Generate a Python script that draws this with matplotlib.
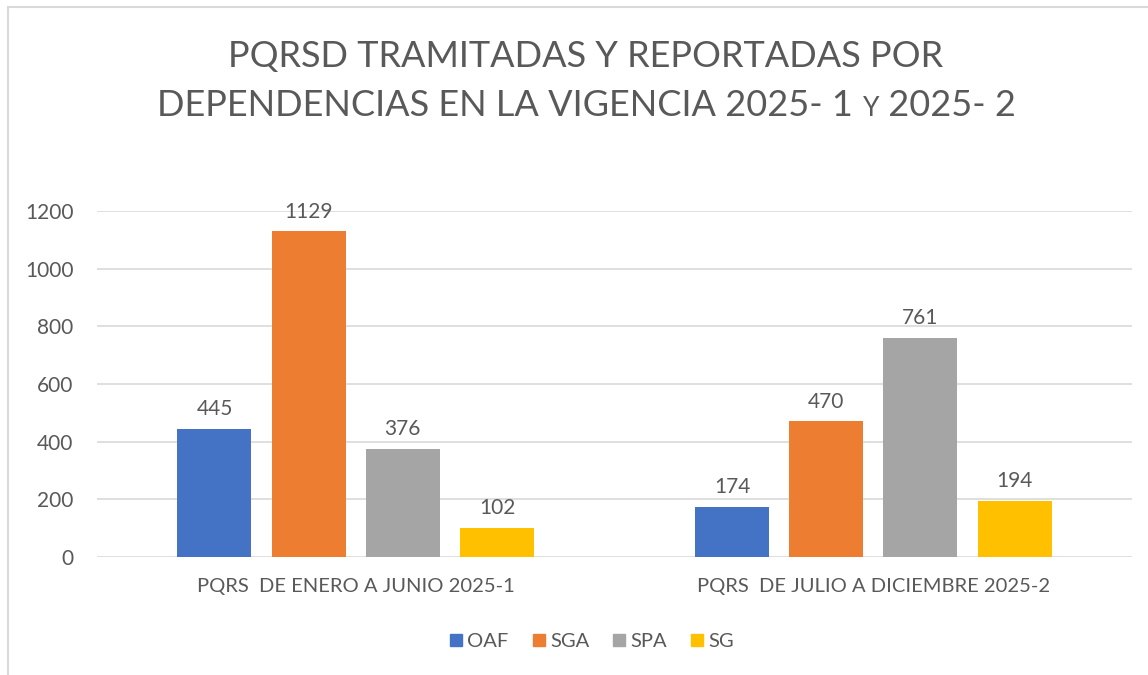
import numpy as np
import matplotlib

matplotlib.use("Agg")
import matplotlib.pyplot as plt
from matplotlib.lines import Line2D
from matplotlib.offsetbox import TextArea, HPacker, AnnotationBbox

plt.rcParams["font.family"] = ["Lato", "DejaVu Sans"]

categories = ["PQRS  DE ENERO A JUNIO 2025-1", "PQRS  DE JULIO A DICIEMBRE 2025-2"]
series_names = ["OAF", "SGA", "SPA", "SG"]
oaf = [445, 174]
sga = [1129, 470]
spa = [376, 761]
sg = [102, 194]
series_values = [oaf, sga, spa, sg]
colors = ["#4472C4", "#ED7D31", "#A5A5A5", "#FFC000"]
yticks = [0, 200, 400, 600, 800, 1000, 1200]

TXT = "#595959"
GRID = "#D9D9D9"

fig = plt.figure(figsize=(11.48, 6.75), dpi=100)
ax = fig.add_axes([97 / 1148, 1 - 557 / 675, (1132 - 97) / 1148, (557 - 211) / 675])

x = np.arange(len(categories))
width = 0.143
step = 0.182
for i, (name, vals, c) in enumerate(zip(series_names, series_values, colors)):
    pos = x + (i - 1.5) * step
    bars = ax.bar(pos, vals, width, color=c, label=name, zorder=3)
    for b, v in zip(bars, vals):
        ax.annotate(f"{v}", (b.get_x() + b.get_width() / 2, v),
                    xytext=(0, 7), textcoords="offset points",
                    ha="center", va="bottom", fontsize=15, color=TXT)

ax.set_xlim(-0.5, len(categories) - 0.5)
ax.set_ylim(0, 1200)
ax.set_yticks(yticks)
ax.set_xticks(x)
ax.set_xticklabels(categories)
ax.tick_params(axis="both", length=0, colors=TXT)
ax.tick_params(axis="x", pad=15, labelsize=14.5)
ax.tick_params(axis="y", pad=17, labelsize=15)
ax.grid(axis="y", color=GRID, linewidth=1.2, zorder=0)
for s in ax.spines.values():
    s.set_visible(False)

# legend
handles = [Line2D([], [], marker="s", ls="", markersize=9, color=c) for c in colors]
leg = fig.legend(handles, series_names, loc="center", bbox_to_anchor=(0.514, 1 - 641 / 675),
                 ncol=4, frameon=False, fontsize=14.5, handletextpad=0.05,
                 columnspacing=1.0, handlelength=1.0)
for t in leg.get_texts():
    t.set_color(TXT)

# title
fig.text(0.51, 1 - 57 / 675, "PQRSD TRAMITADAS Y REPORTADAS POR", ha="center", va="center",
         fontsize=26, color=TXT)
parts = [
    TextArea("DEPENDENCIAS EN LA VIGENCIA 2025- 1 ", textprops=dict(fontsize=26, color=TXT)),
    TextArea("Y", textprops=dict(fontsize=19, color=TXT)),
    TextArea(" 2025- 2", textprops=dict(fontsize=26, color=TXT)),
]
box = HPacker(children=parts, align="baseline", pad=0, sep=0)
ab = AnnotationBbox(box, (0.511, 1 - 105 / 675), xycoords="figure fraction",
                    frameon=False, box_alignment=(0.5, 0.5))
fig.add_artist(ab)

# chart border
fig.add_artist(Line2D([8 / 1148, 1], [1 - 7 / 675] * 2, color=GRID, lw=1.5,
                      transform=fig.transFigure))
fig.add_artist(Line2D([8 / 1148] * 2, [0, 1 - 7 / 675], color=GRID, lw=1.5,
                      transform=fig.transFigure))

fig.savefig("out.png", dpi=100)
